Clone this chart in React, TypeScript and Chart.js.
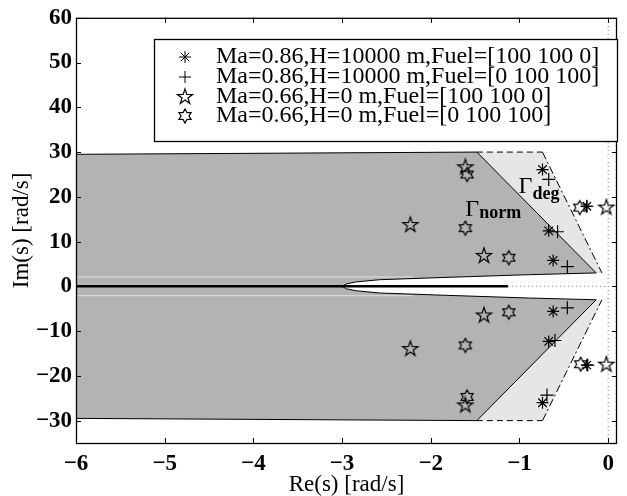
import React, { useEffect, useRef } from 'react';
import { Chart, registerables } from 'chart.js';

Chart.register(...registerables);

// ---- tick values ----
const xTicks = [-6, -5, -4, -3, -2, -1, 0];
const yTicks = [-30, -20, -10, 0, 10, 20, 30, 40, 50, 60];

// ---- legend labels ----
const seriesLabels = [
  'Ma=0.86,H=10000 m,Fuel=[100 100 0]',
  'Ma=0.86,H=10000 m,Fuel=[0 100 100]',
  'Ma=0.66,H=0 m,Fuel=[100 100 0]',
  'Ma=0.66,H=0 m,Fuel=[0 100 100]',
];

// ---- pole series ----
const s1X = [-0.74, -0.67, -0.62, -0.24, -0.62, -0.67, -0.74, -0.24];
const s1Y = [26.1, 12.4, 5.8, 17.9, -5.6, -12.3, -26.0, -17.6];
const s2X = [-0.67, -0.57, -0.46, -0.24, -0.46, -0.6, -0.69, -0.23];
const s2Y = [23.9, 12.2, 4.4, 17.9, -4.8, -12.1, -24.3, -17.6];
const s3X = [-1.61, -2.23, -1.4, -0.02, -1.4, -2.23, -1.61, -0.02];
const s3Y = [26.6, 13.7, 6.8, 17.6, -6.5, -14.0, -26.6, -17.5];
const s4X = [-1.59, -1.61, -1.12, -0.32, -1.12, -1.61, -1.59, -0.31];
const s4Y = [25.0, 13.0, 6.4, 17.6, -5.8, -13.2, -24.7, -17.4];

// ---- Gamma_norm region boundary (upper part then lower part) ----
const normX = [-6, -1.48, -0.135, -0.9, -1.83, -2.58, -2.85, -2.95, -3.0,
  -2.95, -2.85, -2.58, -1.83, -0.9, -0.135, -1.48, -6];
const normY = [29.5, 30, 3.0, 2.6, 2.0, 1.48, 0.97, 0.55, 0,
  -0.55, -0.97, -1.48, -2.0, -2.6, -3.0, -30, -29.5];

// ---- Gamma_deg regions ----
const degUpX = [-1.48, -0.74, -0.07, -0.135];
const degUpY = [30, 30, 3.0, 3.0];
const degLoX = [-1.48, -0.74, -0.07, -0.135];
const degLoY = [-30, -30, -3.0, -3.0];
const degTopUpX = [-1.48, -0.74];
const degTopUpY = [30, 30];
const degTopLoX = [-1.48, -0.74];
const degTopLoY = [-30, -30];
const degSideUpX = [-0.74, -0.07];
const degSideUpY = [30, 3.0];
const degSideLoX = [-0.74, -0.07];
const degSideLoY = [-30, -3.0];

// ---- real-axis lines ----
const zeroLineX = [-6, -1.13];
const zeroLineY = [0, 0];
const seamUpX = [-6, -2.2];
const seamUpY = [2.1, 2.1];
const seamLoX = [-6, -2.2];
const seamLoY = [-2.1, -2.1];
const dotHX = [-6, 0.1];
const dotHY = [0, 0];
const dotVX = [0, 0];
const dotVY = [-35, 60];

// ---- annotation texts ----
const annoNorm = { x: -1.61, y: 15.7, main: 'Γ', sub: 'norm' };
const annoDeg = { x: -1.01, y: 20.8, main: 'Γ', sub: 'deg' };

const pts = (xs: number[], ys: number[]) => xs.map((x, i) => ({ x, y: ys[i] }));

function makeStar(n: number, outer: number, inner: number, size: number) {
  const c = document.createElement('canvas');
  c.width = size;
  c.height = size;
  const ctx = c.getContext('2d')!;
  ctx.translate(size / 2, size / 2);
  ctx.beginPath();
  for (let i = 0; i < n * 2; i++) {
    const r = i % 2 === 0 ? outer : inner;
    const a = -Math.PI / 2 + (i * Math.PI) / n;
    const px = r * Math.cos(a);
    const py = r * Math.sin(a);
    if (i === 0) ctx.moveTo(px, py);
    else ctx.lineTo(px, py);
  }
  ctx.closePath();
  ctx.strokeStyle = '#000';
  ctx.lineWidth = 1.2;
  ctx.stroke();
  return c;
}

const SERIF = "'Liberation Serif', 'Times New Roman', serif";
const fmt = (v: number) => (v < 0 ? '\u2212' + Math.abs(v) : String(v));

export default function App() {
  const ref = useRef<HTMLCanvasElement | null>(null);

  useEffect(() => {
    if (!ref.current) return;
    const penta = makeStar(5, 8, 3.1, 20);
    const hexa = makeStar(6, 7, 4.0, 18);

    const lineDs = (data: any[], extra: any) => ({
      data,
      showLine: true,
      pointRadius: 0,
      fill: false,
      borderWidth: 1,
      borderColor: '#000',
      tension: 0,
      ...extra,
    });

    const overlay = {
      id: 'overlay',
      afterDraw(chart: any) {
        const { ctx, chartArea: ca, scales } = chart;
        const x = scales.x;
        const y = scales.y;
        ctx.save();
        ctx.strokeStyle = '#000';
        ctx.lineWidth = 1;
        // inward tick marks
        ctx.beginPath();
        xTicks.forEach((v) => {
          const px = Math.round(x.getPixelForValue(v)) + 0.5;
          ctx.moveTo(px, ca.bottom);
          ctx.lineTo(px, ca.bottom - 5);
          ctx.moveTo(px, ca.top);
          ctx.lineTo(px, ca.top + 5);
        });
        yTicks.forEach((v) => {
          const py = Math.round(y.getPixelForValue(v)) + 0.5;
          ctx.moveTo(ca.left, py);
          ctx.lineTo(ca.left + 5, py);
          ctx.moveTo(ca.right, py);
          ctx.lineTo(ca.right - 5, py);
        });
        ctx.stroke();
        // frame
        ctx.lineWidth = 1.3;
        ctx.strokeRect(ca.left + 0.5, ca.top + 0.5, ca.right - ca.left - 1, ca.bottom - ca.top);

        // annotations
        [annoNorm, annoDeg].forEach((a) => {
          const px = x.getPixelForValue(a.x);
          const py = y.getPixelForValue(a.y);
          ctx.fillStyle = '#000';
          ctx.textBaseline = 'alphabetic';
          ctx.textAlign = 'left';
          ctx.font = `24px ${SERIF}`;
          ctx.fillText(a.main, px, py);
          const w = ctx.measureText(a.main).width;
          ctx.font = `bold 18px ${SERIF}`;
          ctx.fillText(a.sub, px + w, py + (a === annoDeg ? 6 : 2));
        });

        // legend
        const lx = 154, ly = 39, lw = 463, lh = 102;
        ctx.fillStyle = '#fff';
        ctx.fillRect(lx, ly, lw, lh);
        ctx.strokeStyle = '#000';
        ctx.lineWidth = 1.3;
        ctx.strokeRect(lx + 0.5, ly + 0.5, lw, lh);
        ctx.lineWidth = 1;
        const rowsY = [57, 77, 97, 116];
        const baseY = [63, 83, 103, 122];
        const mx = 185;
        ctx.font = `24px ${SERIF}`;
        ctx.fillStyle = '#000';
        ctx.textAlign = 'left';
        ctx.textBaseline = 'alphabetic';
        seriesLabels.forEach((t, i) => ctx.fillText(t, 216, baseY[i]));
        // marker 1: asterisk
        ctx.beginPath();
        for (let k = 0; k < 4; k++) {
          const ang = (k * Math.PI) / 4;
          ctx.moveTo(mx - 6 * Math.cos(ang), rowsY[0] - 6 * Math.sin(ang));
          ctx.lineTo(mx + 6 * Math.cos(ang), rowsY[0] + 6 * Math.sin(ang));
        }
        // marker 2: plus
        ctx.moveTo(mx - 6, rowsY[1]);
        ctx.lineTo(mx + 6, rowsY[1]);
        ctx.moveTo(mx, rowsY[1] - 6);
        ctx.lineTo(mx, rowsY[1] + 6);
        ctx.stroke();
        ctx.drawImage(penta, mx - 10, rowsY[2] - 10);
        ctx.drawImage(hexa, mx - 9, rowsY[3] - 9);
        ctx.restore();
      },
    };

    const chart = new Chart(ref.current, {
      type: 'line',
      data: {
        datasets: [
          { label: seriesLabels[0], data: pts(s1X, s1Y), showLine: false, pointStyle: 'star', pointRadius: 6, borderColor: '#000', backgroundColor: '#000', borderWidth: 1.2 },
          { label: seriesLabels[1], data: pts(s2X, s2Y), showLine: false, pointStyle: 'cross', pointRadius: 6.5, borderColor: '#000', backgroundColor: '#000', borderWidth: 1.2 },
          { label: seriesLabels[2], data: pts(s3X, s3Y), showLine: false, pointStyle: penta, pointRadius: 9 },
          { label: seriesLabels[3], data: pts(s4X, s4Y), showLine: false, pointStyle: hexa, pointRadius: 9 },
          lineDs(pts(zeroLineX, zeroLineY), { borderWidth: 2.5 }),
          lineDs(pts(seamUpX, seamUpY), { borderColor: 'rgba(255,255,255,0.6)' }),
          lineDs(pts(seamLoX, seamLoY), { borderColor: 'rgba(255,255,255,0.6)' }),
          lineDs(pts(degTopUpX, degTopUpY), { borderDash: [6, 4] }),
          lineDs(pts(degTopLoX, degTopLoY), { borderDash: [6, 4] }),
          lineDs(pts(degSideUpX, degSideUpY), { borderDash: [8, 3, 2, 3] }),
          lineDs(pts(degSideLoX, degSideLoY), { borderDash: [8, 3, 2, 3] }),
          lineDs(pts(normX, normY), { fill: 'shape', backgroundColor: '#b3b3b3', borderWidth: 1 }),
          lineDs(pts(degUpX, degUpY), { fill: 'shape', backgroundColor: '#e6e6e6', borderWidth: 0, borderColor: 'rgba(0,0,0,0)' }),
          lineDs(pts(degLoX, degLoY), { fill: 'shape', backgroundColor: '#e6e6e6', borderWidth: 0, borderColor: 'rgba(0,0,0,0)' }),
          lineDs(pts(dotHX, dotHY), { borderColor: '#888', borderDash: [1, 3] }),
          lineDs(pts(dotVX, dotVY), { borderColor: '#888', borderDash: [1, 3] }),
        ],
      },
      options: {
        responsive: false,
        devicePixelRatio: 1,
        animation: false,
        events: [],
        layout: { padding: { top: 16, right: 8, left: 0, bottom: 0 } },
        plugins: {
          legend: { display: false },
          tooltip: { enabled: false },
          title: { display: false },
        },
        scales: {
          x: {
            type: 'linear',
            min: -6,
            max: 0.1,
            grid: { display: false, drawTicks: false },
            border: { display: false },
            afterBuildTicks: (s: any) => { s.ticks = xTicks.map((v) => ({ value: v })); },
            afterFit: (s: any) => { s.height = 53; },
            ticks: {
              autoSkip: false,
              maxRotation: 0,
              padding: 7,
              color: '#000',
              font: { family: SERIF, size: 23, weight: 'bold' },
              callback: (v: any) => fmt(Number(v)),
            },
            title: {
              display: true,
              text: 'Re(s) [rad/s]',
              color: '#000',
              font: { family: SERIF, size: 23, lineHeight: 1.0 },
              padding: { top: 0, bottom: 0 },
            },
          },
          y: {
            type: 'linear',
            min: -35,
            max: 60,
            grid: { display: false, drawTicks: false },
            border: { display: false },
            afterBuildTicks: (s: any) => { s.ticks = yTicks.map((v) => ({ value: v })); },
            afterFit: (s: any) => { s.width = 76; },
            ticks: {
              autoSkip: false,
              padding: 4,
              color: '#000',
              font: { family: SERIF, size: 23, weight: 'bold' },
              callback: (v: any) => fmt(Number(v)),
            },
            title: {
              display: true,
              text: 'Im(s) [rad/s]',
              color: '#000',
              font: { family: SERIF, size: 23, lineHeight: 1.0 },
              padding: { top: 10, bottom: 0 },
            },
          },
        },
      },
      plugins: [overlay],
    } as any);

    return () => chart.destroy();
  }, []);

  return (
    <div style={{ position: 'absolute', left: 0, top: 0, width: 627, height: 496 }}>
      <canvas ref={ref} width={627} height={496} style={{ display: 'block', width: 627, height: 496 }} />
    </div>
  );
}
